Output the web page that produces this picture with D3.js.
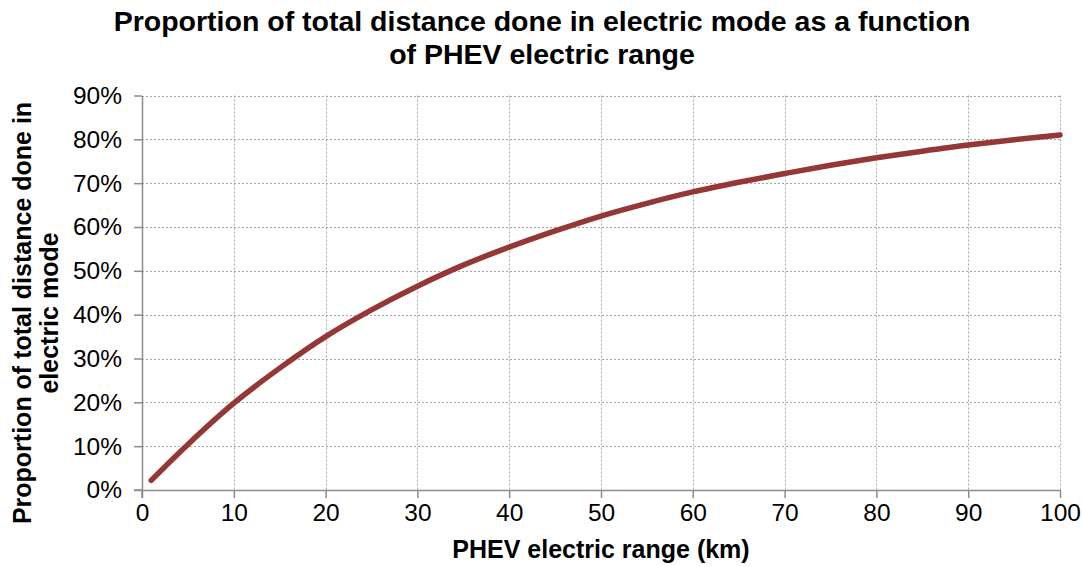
<!DOCTYPE html>
<html>
<head>
<meta charset="utf-8">
<script src="https://cdn.jsdelivr.net/npm/d3@7"></script>
<style>
  html, body { margin: 0; padding: 0; background: #fff; }
  svg { display: block; font-family: "Liberation Sans", Arial, sans-serif; }
</style>
</head>
<body>
<svg id="chart" width="1083" height="567"></svg>
<script>
// Data
const rangeKm = [1, 5, 10, 15, 20, 25, 30, 35, 40, 45, 50, 55, 60, 65, 70, 75, 80, 85, 90, 95, 100];
const electricShare = [0.022, 0.104, 0.198, 0.278, 0.350, 0.411, 0.465, 0.513, 0.554, 0.591, 0.625, 0.654, 0.680, 0.702, 0.722, 0.741, 0.758, 0.773, 0.787, 0.799, 0.810];
const xTicks = [0, 10, 20, 30, 40, 50, 60, 70, 80, 90, 100];
const yTicks = [0, 0.1, 0.2, 0.3, 0.4, 0.5, 0.6, 0.7, 0.8, 0.9];
const titleLines = ["Proportion of total distance done in electric mode as a function", "of PHEV electric range"];
const yTitleLines = ["Proportion of total distance done in", "electric mode"];
const xTitle = "PHEV electric range (km)";

const svg = d3.select("#chart");
const x = d3.scaleLinear().domain([0, 100]).range([142, 1060]);
const y = d3.scaleLinear().domain([0, 0.9]).range([490, 95.5]);

const gridColor = "#a6a6a6";
const axisColor = "#8c8c8c";

// Gridlines
svg.append("g").selectAll("line").data(yTicks.filter(d => d > 0)).join("line")
  .attr("x1", x(0)).attr("x2", x(100))
  .attr("y1", d => Math.round(y(d)) + 0.5).attr("y2", d => Math.round(y(d)) + 0.5)
  .attr("stroke", gridColor).attr("stroke-width", 1).attr("stroke-dasharray", "2,2");
svg.append("g").selectAll("line").data(xTicks.filter(d => d > 0)).join("line")
  .attr("x1", d => Math.round(x(d)) + 0.5).attr("x2", d => Math.round(x(d)) + 0.5)
  .attr("y1", y(0.9)).attr("y2", y(0))
  .attr("stroke", gridColor).attr("stroke-width", 1).attr("stroke-dasharray", "2,2");

// Axes
const xAxis = d3.axisBottom(x).tickValues(xTicks).tickSize(8).tickSizeOuter(0).tickPadding(6)
  .tickFormat(d3.format("d"));
const yAxis = d3.axisLeft(y).tickValues(yTicks).tickSize(8).tickSizeOuter(0).tickPadding(12)
  .tickFormat(d3.format(".0%"));

const gx = svg.append("g").attr("transform", `translate(0,${y(0)})`).call(xAxis);
const gy = svg.append("g").attr("transform", `translate(${x(0)},0)`).call(yAxis);
[gx, gy].forEach(g => {
  g.select(".domain").attr("stroke", axisColor).attr("stroke-width", 1.5);
  g.selectAll(".tick line").attr("stroke", axisColor).attr("stroke-width", 1.5);
  g.selectAll(".tick text").attr("fill", "#000").attr("font-size", 24.5)
    .attr("font-family", "'Liberation Sans', Arial, sans-serif");
});
gy.append("line").attr("x1", 0).attr("x2", 0).attr("y1", y(0)).attr("y2", y(0) + 8)
  .attr("stroke", axisColor).attr("stroke-width", 1.5);
gx.append("line").attr("x1", x(0) - 8).attr("x2", x(0)).attr("y1", 0).attr("y2", 0)
  .attr("stroke", axisColor).attr("stroke-width", 1.5);

// Line
const line = d3.line()
  .x((d, i) => x(rangeKm[i]))
  .y(d => y(d))
  .curve(d3.curveCatmullRom.alpha(0.5));
svg.append("path").datum(electricShare)
  .attr("d", line)
  .attr("fill", "none")
  .attr("stroke", "#953735")
  .attr("stroke-width", 5.5)
  .attr("stroke-linecap", "round")
  .attr("stroke-linejoin", "round");

// Title
svg.append("g").selectAll("text").data(titleLines).join("text")
  .attr("x", 542).attr("y", (d, i) => 31 + i * 33)
  .attr("text-anchor", "middle").attr("font-size", 28.5).attr("font-weight", "bold")
  .attr("fill", "#000")
  .text(d => d);

// Y axis title
svg.append("g").attr("transform", "translate(0,313) rotate(-90)")
  .selectAll("text").data(yTitleLines).join("text")
  .attr("x", 0).attr("y", (d, i) => 31 + i * 27)
  .attr("text-anchor", "middle").attr("font-size", 25).attr("font-weight", "bold")
  .attr("fill", "#000")
  .text(d => d);

// X axis title
svg.append("text").attr("x", 601).attr("y", 558)
  .attr("text-anchor", "middle").attr("font-size", 25).attr("font-weight", "bold")
  .attr("fill", "#000")
  .text(xTitle);
</script>
</body>
</html>
